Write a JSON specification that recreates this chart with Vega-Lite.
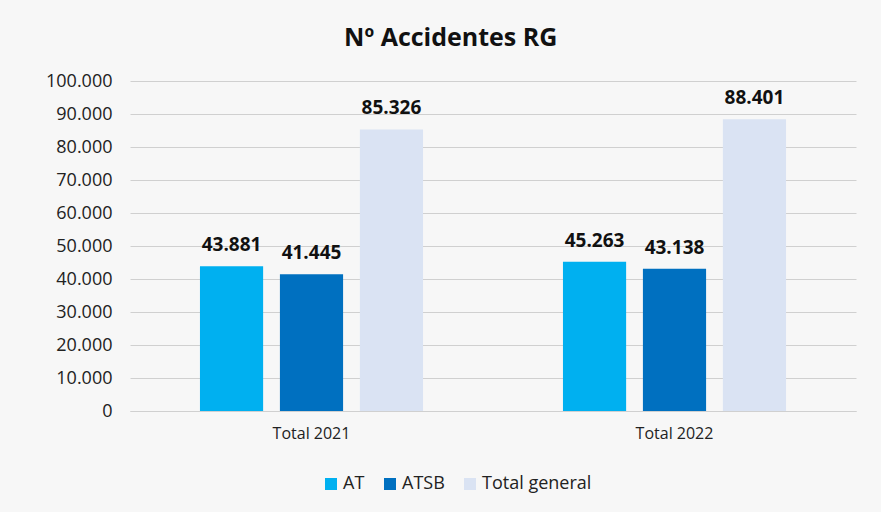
{
  "$schema": "https://vega.github.io/schema/vega-lite/v6.json",
  "width": 726,
  "height": 330,
  "autosize": {"type": "none"},
  "padding": {"left": 130, "top": 81, "right": 25, "bottom": 101},
  "background": "#f7f7f7",
  "config": {"view": {"stroke": null}},
  "title": {
    "text": "Nº Accidentes RG",
    "font": "Open Sans",
    "fontSize": 25,
    "fontWeight": "bold",
    "color": "#111111",
    "anchor": "middle",
    "frame": "bounds",
    "offset": 21
  },
  "data": {
    "values": [
      {"periodo": "Total 2021", "tipo": "AT", "valor": 43881},
      {"periodo": "Total 2021", "tipo": "ATSB", "valor": 41445},
      {"periodo": "Total 2021", "tipo": "Total general", "valor": 85326},
      {"periodo": "Total 2022", "tipo": "AT", "valor": 45263},
      {"periodo": "Total 2022", "tipo": "ATSB", "valor": 43138},
      {"periodo": "Total 2022", "tipo": "Total general", "valor": 88401}
    ]
  },
  "transform": [
    {"calculate": "replace(format(datum.valor, ','), ',', '.')", "as": "etiqueta"}
  ],
  "encoding": {
    "x": {
      "field": "periodo",
      "type": "nominal",
      "scale": {"paddingInner": 0, "paddingOuter": 0},
      "axis": {
        "title": null,
        "labelAngle": 0,
        "labelFont": "Open Sans",
        "labelFontSize": 16,
        "labelColor": "#222222",
        "labelPadding": 14,
        "ticks": false,
        "domain": true,
        "domainColor": "#d0d0d0"
      }
    },
    "xOffset": {
      "field": "tipo",
      "type": "nominal",
      "scale": {"paddingInner": 0.21, "paddingOuter": 0.875}
    },
    "y": {
      "field": "valor",
      "type": "quantitative",
      "scale": {"domain": [0, 100000]},
      "axis": {
        "title": null,
        "values": [0, 10000, 20000, 30000, 40000, 50000, 60000, 70000, 80000, 90000, 100000],
        "format": ",d",
        "labelExpr": "replace(datum.label, ',', '.')",
        "labelOverlap": false,
        "labelFont": "Open Sans",
        "labelFontSize": 18,
        "labelColor": "#222222",
        "labelPadding": 18,
        "ticks": false,
        "domain": false,
        "grid": true,
        "gridColor": "#d0d0d0",
        "gridWidth": 1
      }
    }
  },
  "layer": [
    {
      "mark": {"type": "bar"},
      "encoding": {
        "color": {
          "field": "tipo",
          "type": "nominal",
          "scale": {
            "domain": ["AT", "ATSB", "Total general"],
            "range": ["#00b0f0", "#0070c0", "#dae3f3"]
          },
          "legend": {
            "title": null,
            "orient": "none",
            "direction": "horizontal",
            "legendX": 192,
            "legendY": 394,
            "symbolType": "square",
            "symbolSize": 144,
            "symbolStrokeWidth": 0,
            "labelFont": "Open Sans",
            "labelFontSize": 18,
            "labelColor": "#222222",
            "labelOffset": 3,
            "columnPadding": 16
          }
        }
      }
    },
    {
      "mark": {
        "type": "text",
        "baseline": "alphabetic",
        "dy": -15,
        "font": "Open Sans",
        "fontSize": 19,
        "fontWeight": "bold",
        "color": "#111111"
      },
      "encoding": {
        "text": {"field": "etiqueta"}
      }
    }
  ]
}
